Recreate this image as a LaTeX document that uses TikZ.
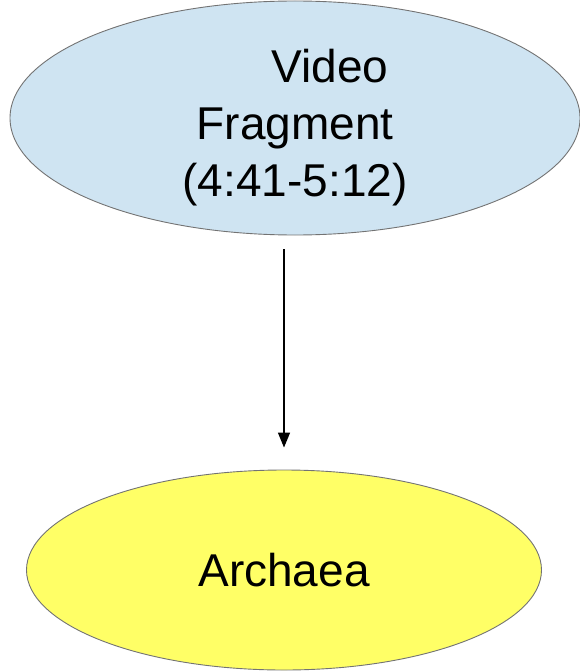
\documentclass[tikz,border=0pt]{standalone}
\usepackage{fontspec}
\setmainfont{Liberation Sans}
\usetikzlibrary{shapes,arrows.meta,positioning}

\begin{document}
\begin{tikzpicture}[
    x=1pt, y=1pt,
    bubble/.style={ellipse, draw=gray!90!black, line width=0.9pt, align=center,
                   font=\fontsize{46}{57}\selectfont, inner sep=0pt},
    arrow/.style={-{Triangle[width=12pt,length=15pt]}, line width=1.4pt}
]
\useasboundingbox (0,0) rectangle (580,-671);

% Source
\node[bubble, fill={rgb,255:red,207;green,228;blue,242}, inner ysep=-12pt,
      minimum width=570, minimum height=234] (video) at (295,-118)
      {\rule{0pt}{52pt}\hspace*{70pt}Video\\Fragment\\(4:41-5:12)};

% Target
\node[bubble, fill={rgb,255:red,255;green,255;blue,102},
      minimum width=515, minimum height=200] (archaea) at (284,-570) {Archaea};

% Link
\draw[arrow, shorten <=14pt, shorten >=22pt] (archaea.north |- video.south) -- (archaea.north);

\end{tikzpicture}
\end{document}
